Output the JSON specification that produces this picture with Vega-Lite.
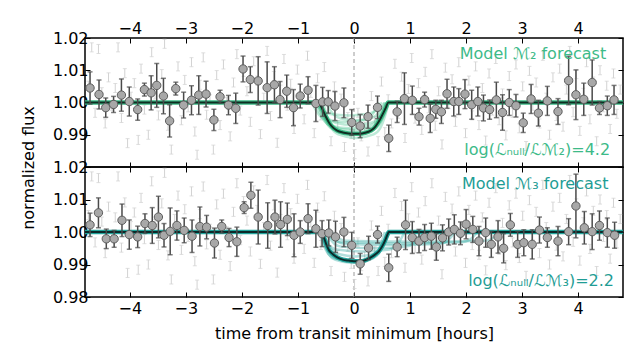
{
"$schema": "https://vega.github.io/schema/vega-lite/v6.json",
"padding": {"left": 19, "top": 19, "right": 5, "bottom": 5},
"spacing": 0,
"bounds": "flush",
"background": "white",
"config": {
  "font": "DejaVu Sans",
  "view": {"stroke": "black", "strokeWidth": 1.5},
  "axis": {"grid": false, "domain": false, "tickColor": "black", "tickSize": -5, "tickWidth": 1, "labelFont": "DejaVu Sans", "labelFontSize": 16, "labelColor": "black", "titleFont": "DejaVu Sans", "titleFontSize": 16, "titleFontWeight": "normal", "titleColor": "black", "labelPadding": 2}
},
"datasets": {
  "light": [
{"t":-4.74,"f":1.0052,"e":0.0014},{"t":-4.68,"f":1.0171,"e":0.0014},{"t":-4.62,"f":0.9968,"e":0.0014},{"t":-4.56,"f":1.0166,"e":0.0014},{"t":-4.50,"f":1.0032,"e":0.0014},{"t":-4.44,"f":0.9935,"e":0.0014},{"t":-4.38,"f":1.0078,"e":0.0014},{"t":-4.32,"f":0.9990,"e":0.0014},{"t":-4.26,"f":1.0045,"e":0.0014},{"t":-4.21,"f":1.0171,"e":0.0014},{"t":-4.15,"f":0.9952,"e":0.0014},{"t":-4.09,"f":1.0091,"e":0.0014},{"t":-4.04,"f":0.9874,"e":0.0014},{"t":-3.98,"f":1.0018,"e":0.0014},{"t":-3.92,"f":1.0060,"e":0.0014},{"t":-3.85,"f":0.9884,"e":0.0014},{"t":-3.80,"f":1.0105,"e":0.0014},{"t":-3.74,"f":0.9978,"e":0.0014},{"t":-3.67,"f":0.9900,"e":0.0014},{"t":-3.61,"f":1.0156,"e":0.0014},{"t":-3.55,"f":1.0025,"e":0.0014},{"t":-3.49,"f":0.9960,"e":0.0014},{"t":-3.43,"f":1.0088,"e":0.0014},{"t":-3.38,"f":1.0182,"e":0.0014},{"t":-3.32,"f":0.9928,"e":0.0014},{"t":-3.26,"f":0.9854,"e":0.0014},{"t":-3.20,"f":1.0040,"e":0.0014},{"t":-3.14,"f":1.0112,"e":0.0014},{"t":-3.08,"f":0.9945,"e":0.0014},{"t":-3.02,"f":1.0070,"e":0.0014},{"t":-2.96,"f":0.9985,"e":0.0014},{"t":-2.90,"f":1.0125,"e":0.0014},{"t":-2.84,"f":0.9910,"e":0.0014},{"t":-2.80,"f":0.9838,"e":0.0014},{"t":-2.75,"f":1.0055,"e":0.0014},{"t":-2.69,"f":1.0140,"e":0.0014},{"t":-2.63,"f":0.9962,"e":0.0014},{"t":-2.57,"f":1.0010,"e":0.0014},{"t":-2.51,"f":0.9854,"e":0.0014},{"t":-2.45,"f":1.0085,"e":0.0014},{"t":-2.39,"f":0.9930,"e":0.0014},{"t":-2.33,"f":1.0118,"e":0.0014},{"t":-2.27,"f":1.0002,"e":0.0014},{"t":-2.21,"f":0.9895,"e":0.0014},{"t":-2.15,"f":1.0062,"e":0.0014},{"t":-2.09,"f":1.0150,"e":0.0014},{"t":-2.03,"f":0.9975,"e":0.0014},{"t":-1.97,"f":1.0095,"e":0.0014},{"t":-1.91,"f":1.0035,"e":0.0014},{"t":-1.85,"f":0.9940,"e":0.0014},{"t":-1.79,"f":1.0128,"e":0.0014},{"t":-1.73,"f":1.0068,"e":0.0014},{"t":-1.67,"f":0.9902,"e":0.0014},{"t":-1.61,"f":1.0015,"e":0.0014},{"t":-1.55,"f":1.0160,"e":0.0014},{"t":-1.49,"f":0.9958,"e":0.0014},{"t":-1.43,"f":1.0082,"e":0.0014},{"t":-1.37,"f":0.9875,"e":0.0014},{"t":-1.31,"f":1.0040,"e":0.0014},{"t":-1.25,"f":1.0135,"e":0.0014},{"t":-1.19,"f":0.9990,"e":0.0014},{"t":-1.13,"f":1.0058,"e":0.0014},{"t":-1.07,"f":0.9918,"e":0.0014},{"t":-1.01,"f":1.0102,"e":0.0014},{"t":-0.95,"f":1.0020,"e":0.0014},{"t":-0.89,"f":0.9948,"e":0.0014},{"t":-0.83,"f":1.0145,"e":0.0014},{"t":-0.77,"f":1.0030,"e":0.0014},{"t":-0.71,"f":0.9905,"e":0.0014},{"t":-0.65,"f":1.0075,"e":0.0014},{"t":-0.59,"f":0.9960,"e":0.0014},{"t":-0.53,"f":1.0110,"e":0.0014},{"t":-0.47,"f":0.9985,"e":0.0014},{"t":-0.41,"f":0.9880,"e":0.0014},{"t":-0.35,"f":1.0050,"e":0.0014},{"t":-0.29,"f":0.9930,"e":0.0014},{"t":-0.23,"f":1.0012,"e":0.0014},{"t":-0.17,"f":0.9862,"e":0.0014},{"t":-0.11,"f":0.9955,"e":0.0014},{"t":-0.05,"f":0.9902,"e":0.0014},{"t":0.01,"f":0.9840,"e":0.0014},{"t":0.07,"f":0.9968,"e":0.0014},{"t":0.13,"f":0.9895,"e":0.0014},{"t":0.19,"f":0.9925,"e":0.0014},{"t":0.25,"f":0.9848,"e":0.0014},{"t":0.31,"f":1.0020,"e":0.0014},{"t":0.37,"f":0.9942,"e":0.0014},{"t":0.43,"f":0.9880,"e":0.0014},{"t":0.49,"f":1.0065,"e":0.0014},{"t":0.55,"f":0.9908,"e":0.0014},{"t":0.61,"f":1.0010,"e":0.0014},{"t":0.67,"f":0.9935,"e":0.0014},{"t":0.73,"f":1.0120,"e":0.0014},{"t":0.79,"f":0.9965,"e":0.0014},{"t":0.85,"f":1.0080,"e":0.0014},{"t":0.91,"f":0.9890,"e":0.0014},{"t":0.97,"f":1.0042,"e":0.0014},{"t":1.03,"f":1.0138,"e":0.0014},{"t":1.09,"f":0.9950,"e":0.0014},{"t":1.15,"f":1.0060,"e":0.0014},{"t":1.21,"f":0.9915,"e":0.0014},{"t":1.27,"f":1.0095,"e":0.0014},{"t":1.33,"f":0.9982,"e":0.0014},{"t":1.39,"f":1.0150,"e":0.0014},{"t":1.45,"f":0.9928,"e":0.0014},{"t":1.51,"f":1.0035,"e":0.0014},{"t":1.57,"f":0.9870,"e":0.0014},{"t":1.63,"f":1.0108,"e":0.0014},{"t":1.69,"f":0.9995,"e":0.0014},{"t":1.75,"f":1.0072,"e":0.0014},{"t":1.81,"f":0.9940,"e":0.0014},{"t":1.87,"f":1.0125,"e":0.0014},{"t":1.93,"f":1.0010,"e":0.0014},{"t":1.99,"f":0.9905,"e":0.0014},{"t":2.05,"f":1.0068,"e":0.0014},{"t":2.11,"f":0.9960,"e":0.0014},{"t":2.17,"f":1.0112,"e":0.0014},{"t":2.23,"f":0.9930,"e":0.0014},{"t":2.29,"f":1.0045,"e":0.0014},{"t":2.35,"f":0.9882,"e":0.0014},{"t":2.41,"f":1.0090,"e":0.0014},{"t":2.47,"f":0.9975,"e":0.0014},{"t":2.53,"f":1.0135,"e":0.0014},{"t":2.59,"f":0.9945,"e":0.0014},{"t":2.65,"f":1.0028,"e":0.0014},{"t":2.71,"f":0.9898,"e":0.0014},{"t":2.77,"f":1.0082,"e":0.0014},{"t":2.83,"f":0.9968,"e":0.0014},{"t":2.89,"f":1.0118,"e":0.0014},{"t":2.95,"f":0.9920,"e":0.0014},{"t":3.01,"f":1.0050,"e":0.0014},{"t":3.07,"f":0.9865,"e":0.0014},{"t":3.13,"f":1.0098,"e":0.0014},{"t":3.19,"f":0.9990,"e":0.0014},{"t":3.25,"f":1.0062,"e":0.0014},{"t":3.31,"f":0.9935,"e":0.0014},{"t":3.37,"f":1.0145,"e":0.0014},{"t":3.43,"f":1.0015,"e":0.0014},{"t":3.49,"f":0.9900,"e":0.0014},{"t":3.55,"f":1.0078,"e":0.0014},{"t":3.61,"f":0.9958,"e":0.0014},{"t":3.67,"f":1.0105,"e":0.0014},{"t":3.73,"f":0.9925,"e":0.0014},{"t":3.79,"f":1.0040,"e":0.0014},{"t":3.85,"f":1.0160,"e":0.0014},{"t":3.91,"f":0.9970,"e":0.0014},{"t":3.97,"f":1.0088,"e":0.0014},{"t":4.03,"f":0.9912,"e":0.0014},{"t":4.09,"f":1.0030,"e":0.0014},{"t":4.15,"f":1.0125,"e":0.0014},{"t":4.21,"f":0.9948,"e":0.0014},{"t":4.27,"f":1.0065,"e":0.0014},{"t":4.33,"f":0.9880,"e":0.0014},{"t":4.39,"f":1.0100,"e":0.0014},{"t":4.45,"f":0.9985,"e":0.0014},{"t":4.51,"f":1.0052,"e":0.0014},{"t":4.57,"f":0.9918,"e":0.0014},{"t":4.63,"f":1.0090,"e":0.0014},{"t":4.69,"f":0.9965,"e":0.0014},{"t":4.75,"f":1.0040,"e":0.0014}
  ],
  "topDark": [
{"t":-4.71,"f":1.0045,"e":0.005},{"t":-4.55,"f":1.0025,"e":0.0045},{"t":-4.43,"f":0.9984,"e":0.003},{"t":-4.29,"f":0.9994,"e":0.0025},{"t":-4.15,"f":1.0023,"e":0.005},{"t":-4.01,"f":1.0003,"e":0.0045},{"t":-3.86,"f":0.9978,"e":0.0033},{"t":-3.74,"f":1.004,"e":0.002},{"t":-3.62,"f":1.003,"e":0.0053},{"t":-3.52,"f":1.0053,"e":0.0068},{"t":-3.40,"f":1.002,"e":0.0055},{"t":-3.29,"f":0.9943,"e":0.005},{"t":-3.18,"f":1.0043,"e":0.002},{"t":-3.04,"f":0.9992,"e":0.004},{"t":-2.90,"f":1.0007,"e":0.0045},{"t":-2.77,"f":1.0023,"e":0.006},{"t":-2.64,"f":1.0026,"e":0.004},{"t":-2.50,"f":0.9946,"e":0.0033},{"t":-2.39,"f":1.0018,"e":0.002},{"t":-2.24,"f":0.9992,"e":0.003},{"t":-2.11,"f":0.9982,"e":0.0047},{"t":-1.98,"f":1.0104,"e":0.004},{"t":-1.85,"f":1.0071,"e":0.004},{"t":-1.71,"f":1.0067,"e":0.0075},{"t":-1.55,"f":1.0046,"e":0.008},{"t":-1.42,"f":1.0055,"e":0.0056},{"t":-1.32,"f":1.0009,"e":0.0056},{"t":-1.20,"f":1.0035,"e":0.005},{"t":-1.08,"f":0.9984,"e":0.0056},{"t":-0.96,"f":1.002,"e":0.0037},{"t":-0.82,"f":1.0038,"e":0.0042},{"t":-0.68,"f":0.9997,"e":0.0056},{"t":-0.56,"f":1.0002,"e":0.0045},{"t":-0.46,"f":1.0002,"e":0.0035},{"t":-0.34,"f":0.9989,"e":0.0045},{"t":-0.18,"f":0.9999,"e":0.0046},{"t":-0.04,"f":0.9938,"e":0.004},{"t":0.11,"f":0.9927,"e":0.0036},{"t":0.25,"f":0.9956,"e":0.0036},{"t":0.42,"f":0.9985,"e":0.0035},{"t":0.62,"f":0.9889,"e":0.0041},{"t":0.77,"f":0.9971,"e":0.0033},{"t":0.90,"f":1.0012,"e":0.008},{"t":1.04,"f":1.0007,"e":0.0044},{"t":1.16,"f":0.9956,"e":0.0026},{"t":1.26,"f":1.0009,"e":0.0023},{"t":1.36,"f":0.9951,"e":0.0044},{"t":1.46,"f":0.9979,"e":0.0028},{"t":1.56,"f":0.9971,"e":0.0036},{"t":1.66,"f":1.0027,"e":0.0045},{"t":1.78,"f":1.0003,"e":0.0045},{"t":1.87,"f":1.0003,"e":0.004},{"t":1.98,"f":1.0026,"e":0.0045},{"t":2.10,"f":0.9993,"e":0.0045},{"t":2.21,"f":1.0003,"e":0.0045},{"t":2.31,"f":0.9983,"e":0.004},{"t":2.42,"f":0.9978,"e":0.003},{"t":2.54,"f":1.0008,"e":0.0055},{"t":2.65,"f":0.9969,"e":0.0055},{"t":2.77,"f":1.0,"e":0.004},{"t":2.89,"f":0.999,"e":0.0035},{"t":3.02,"f":0.9937,"e":0.003},{"t":3.16,"f":1.0011,"e":0.0045},{"t":3.29,"f":0.9967,"e":0.004},{"t":3.45,"f":1.0005,"e":0.0045},{"t":3.64,"f":0.9972,"e":0.004},{"t":3.83,"f":1.0068,"e":0.0075},{"t":3.96,"f":1.0024,"e":0.0077},{"t":4.10,"f":1.001,"e":0.005},{"t":4.25,"f":1.0062,"e":0.007},{"t":4.38,"f":0.9983,"e":0.002},{"t":4.52,"f":0.999,"e":0.003},{"t":4.64,"f":1.0008,"e":0.0045}
  ],
  "botDark": [
{"t":-4.71,"f":1.0022,"e":0.0036},{"t":-4.56,"f":1.0059,"e":0.0046},{"t":-4.42,"f":0.9979,"e":0.003},{"t":-4.28,"f":0.9979,"e":0.0026},{"t":-4.14,"f":1.0036,"e":0.005},{"t":-4.01,"f":0.9992,"e":0.0045},{"t":-3.86,"f":0.9985,"e":0.0033},{"t":-3.73,"f":1.0026,"e":0.003},{"t":-3.60,"f":1.002,"e":0.0055},{"t":-3.49,"f":1.0046,"e":0.0064},{"t":-3.39,"f":0.999,"e":0.0036},{"t":-3.28,"f":1.0002,"e":0.0072},{"t":-3.16,"f":1.002,"e":0.0045},{"t":-3.03,"f":1.0005,"e":0.0038},{"t":-2.89,"f":0.9987,"e":0.005},{"t":-2.75,"f":1.0017,"e":0.006},{"t":-2.63,"f":1.0015,"e":0.0036},{"t":-2.49,"f":0.9966,"e":0.0046},{"t":-2.36,"f":1.0017,"e":0.002},{"t":-2.23,"f":0.9983,"e":0.0028},{"t":-2.09,"f":0.997,"e":0.0045},{"t":-1.96,"f":1.0075,"e":0.0018},{"t":-1.84,"f":1.0113,"e":0.004},{"t":-1.71,"f":1.0046,"e":0.0083},{"t":-1.54,"f":1.002,"e":0.007},{"t":-1.41,"f":1.0046,"e":0.0052},{"t":-1.31,"f":1.0023,"e":0.007},{"t":-1.19,"f":1.0039,"e":0.005},{"t":-1.07,"f":0.999,"e":0.0066},{"t":-0.96,"f":1.0,"e":0.0035},{"t":-0.82,"f":1.0041,"e":0.0046},{"t":-0.68,"f":1.001,"e":0.0057},{"t":-0.57,"f":0.9995,"e":0.004},{"t":-0.45,"f":0.9997,"e":0.004},{"t":-0.33,"f":0.9985,"e":0.0048},{"t":-0.18,"f":1.0,"e":0.0045},{"t":-0.04,"f":0.9959,"e":0.004},{"t":0.11,"f":0.9902,"e":0.0032},{"t":0.26,"f":0.9951,"e":0.0036},{"t":0.42,"f":0.9992,"e":0.0026},{"t":0.62,"f":0.989,"e":0.0042},{"t":0.77,"f":0.9954,"e":0.003},{"t":0.92,"f":1.0022,"e":0.0076},{"t":1.04,"f":0.9983,"e":0.0049},{"t":1.16,"f":0.9972,"e":0.0036},{"t":1.26,"f":0.9983,"e":0.004},{"t":1.38,"f":0.9987,"e":0.004},{"t":1.47,"f":0.9954,"e":0.0041},{"t":1.58,"f":0.9982,"e":0.004},{"t":1.69,"f":1.0,"e":0.004},{"t":1.79,"f":1.0008,"e":0.0045},{"t":1.90,"f":0.9996,"e":0.0035},{"t":2.00,"f":1.0024,"e":0.0045},{"t":2.12,"f":1.0008,"e":0.004},{"t":2.23,"f":0.9972,"e":0.0045},{"t":2.35,"f":0.9998,"e":0.0045},{"t":2.45,"f":0.9962,"e":0.004},{"t":2.57,"f":0.9985,"e":0.005},{"t":2.67,"f":0.995,"e":0.0045},{"t":2.79,"f":1.0022,"e":0.0035},{"t":2.92,"f":0.9962,"e":0.004},{"t":3.03,"f":0.9967,"e":0.004},{"t":3.18,"f":0.9962,"e":0.0045},{"t":3.31,"f":1.0006,"e":0.004},{"t":3.45,"f":0.9983,"e":0.003},{"t":3.64,"f":0.9972,"e":0.0045},{"t":3.83,"f":1.0001,"e":0.004},{"t":3.96,"f":1.008,"e":0.0098},{"t":4.11,"f":1.0013,"e":0.005},{"t":4.25,"f":1.0001,"e":0.0055},{"t":4.38,"f":1.002,"e":0.0045},{"t":4.52,"f":0.9998,"e":0.0045},{"t":4.65,"f":0.999,"e":0.004}
  ],
  "topFc": [
{"c":1,"t":-0.75,"f":1},{"c":1,"t":-0.68,"f":0.9976},{"c":1,"t":-0.60,"f":0.99568},{"c":1,"t":-0.48,"f":0.9946},{"c":1,"t":-0.15,"f":0.994},{"c":1,"t":0.18,"f":0.9946},{"c":1,"t":0.30,"f":0.99568},{"c":1,"t":0.38,"f":0.9976},{"c":1,"t":0.45,"f":1},
{"c":2,"t":-0.68,"f":1},{"c":2,"t":-0.61,"f":0.9968},{"c":2,"t":-0.53,"f":0.99424},{"c":2,"t":-0.41,"f":0.9928},{"c":2,"t":-0.065,"f":0.992},{"c":2,"t":0.28,"f":0.9928},{"c":2,"t":0.40,"f":0.99424},{"c":2,"t":0.48,"f":0.9968},{"c":2,"t":0.55,"f":1},
{"c":3,"t":-0.62,"f":1},{"c":3,"t":-0.55,"f":0.9962},{"c":3,"t":-0.47,"f":0.99316},{"c":3,"t":-0.35,"f":0.99145},{"c":3,"t":-0.01,"f":0.9905},{"c":3,"t":0.33,"f":0.99145},{"c":3,"t":0.45,"f":0.99316},{"c":3,"t":0.53,"f":0.9962},{"c":3,"t":0.6,"f":1},
{"c":4,"t":-0.55,"f":1},{"c":4,"t":-0.48,"f":0.9956},{"c":4,"t":-0.40,"f":0.99208},{"c":4,"t":-0.28,"f":0.9901},{"c":4,"t":0.035,"f":0.989},{"c":4,"t":0.35,"f":0.9901},{"c":4,"t":0.47,"f":0.99208},{"c":4,"t":0.55,"f":0.9956},{"c":4,"t":0.62,"f":1},
{"c":5,"t":-0.7,"f":1},{"c":5,"t":-0.63,"f":0.9984},{"c":5,"t":-0.55,"f":0.99712},{"c":5,"t":-0.43,"f":0.9964},{"c":5,"t":-0.1,"f":0.996},{"c":5,"t":0.23,"f":0.9964},{"c":5,"t":0.35,"f":0.99712},{"c":5,"t":0.43,"f":0.9984},{"c":5,"t":0.5,"f":1},
{"c":6,"t":-0.6,"f":1},{"c":6,"t":-0.53,"f":0.9972},{"c":6,"t":-0.45,"f":0.99496},{"c":6,"t":-0.33,"f":0.9937},{"c":6,"t":-0.01,"f":0.993},{"c":6,"t":0.31,"f":0.9937},{"c":6,"t":0.43,"f":0.99496},{"c":6,"t":0.51,"f":0.9972},{"c":6,"t":0.58,"f":1},
{"c":7,"t":-0.5,"f":1},{"c":7,"t":-0.43,"f":0.9978},{"c":7,"t":-0.35,"f":0.99604},{"c":7,"t":-0.23,"f":0.99505},{"c":7,"t":0.025,"f":0.9945},{"c":7,"t":0.28,"f":0.99505},{"c":7,"t":0.40,"f":0.99604},{"c":7,"t":0.48,"f":0.9978},{"c":7,"t":0.55,"f":1},
{"c":8,"t":-0.65,"f":1},{"c":8,"t":-0.58,"f":0.9966},{"c":8,"t":-0.50,"f":0.99388},{"c":8,"t":-0.38,"f":0.99235},{"c":8,"t":-0.015,"f":0.9915},{"c":8,"t":0.35,"f":0.99235},{"c":8,"t":0.47,"f":0.99388},{"c":8,"t":0.55,"f":0.9966},{"c":8,"t":0.62,"f":1}
  ],
  "botFc": [
{"c":1,"t":-0.62,"f":1},{"c":1,"t":-0.55,"f":0.9964},{"c":1,"t":-0.47,"f":0.99352},{"c":1,"t":-0.35,"f":0.9919},{"c":1,"t":-0.01,"f":0.991},{"c":1,"t":0.33,"f":0.9919},{"c":1,"t":0.45,"f":0.99352},{"c":1,"t":0.53,"f":0.9964},{"c":1,"t":0.6,"f":1},
{"c":2,"t":-0.55,"f":1},{"c":2,"t":-0.48,"f":0.997},{"c":2,"t":-0.40,"f":0.9946},{"c":2,"t":-0.28,"f":0.99325},{"c":2,"t":0.035,"f":0.9925},{"c":2,"t":0.35,"f":0.99325},{"c":2,"t":0.47,"f":0.9946},{"c":2,"t":0.55,"f":0.997},{"c":2,"t":0.62,"f":1},
{"c":3,"t":-0.5,"f":1},{"c":3,"t":-0.43,"f":0.998},{"c":3,"t":-0.35,"f":0.9964},{"c":3,"t":-0.23,"f":0.9955},{"c":3,"t":0.35,"f":0.995},{"c":3,"t":0.93,"f":0.9955},{"c":3,"t":1.05,"f":0.9964},{"c":3,"t":1.13,"f":0.998},{"c":3,"t":1.2,"f":1},
{"c":4,"t":-0.45,"f":1},{"c":4,"t":-0.38,"f":0.9984},{"c":4,"t":-0.30,"f":0.99712},{"c":4,"t":-0.18,"f":0.9964},{"c":4,"t":0.675,"f":0.996},{"c":4,"t":1.53,"f":0.9964},{"c":4,"t":1.65,"f":0.99712},{"c":4,"t":1.73,"f":0.9984},{"c":4,"t":1.8,"f":1},
{"c":5,"t":-0.4,"f":1},{"c":5,"t":-0.33,"f":0.9988},{"c":5,"t":-0.25,"f":0.99784},{"c":5,"t":-0.13,"f":0.9973},{"c":5,"t":1.1,"f":0.997},{"c":5,"t":2.33,"f":0.9973},{"c":5,"t":2.45,"f":0.99784},{"c":5,"t":2.53,"f":0.9988},{"c":5,"t":2.6,"f":1},
{"c":6,"t":-0.58,"f":1},{"c":6,"t":-0.51,"f":0.9976},{"c":6,"t":-0.43,"f":0.99568},{"c":6,"t":-0.31,"f":0.9946},{"c":6,"t":0.16,"f":0.994},{"c":6,"t":0.63,"f":0.9946},{"c":6,"t":0.75,"f":0.99568},{"c":6,"t":0.83,"f":0.9976},{"c":6,"t":0.9,"f":1},
{"c":7,"t":-0.5,"f":1},{"c":7,"t":-0.43,"f":0.9986},{"c":7,"t":-0.35,"f":0.99748},{"c":7,"t":-0.23,"f":0.99685},{"c":7,"t":0.85,"f":0.9965},{"c":7,"t":1.93,"f":0.99685},{"c":7,"t":2.05,"f":0.99748},{"c":7,"t":2.13,"f":0.9986},{"c":7,"t":2.2,"f":1},
{"c":8,"t":-0.6,"f":1},{"c":8,"t":-0.53,"f":0.9962},{"c":8,"t":-0.45,"f":0.99316},{"c":8,"t":-0.33,"f":0.99145},{"c":8,"t":-0.025,"f":0.9905},{"c":8,"t":0.28,"f":0.99145},{"c":8,"t":0.40,"f":0.99316},{"c":8,"t":0.48,"f":0.9962},{"c":8,"t":0.55,"f":1}
  ],
  "topModel": [
{"t":-4.8,"f":1.0},{"t":-0.62,"f":1.0},{"t":-0.58,"f":0.9985},{"t":-0.54,"f":0.997},{"t":-0.5,"f":0.9955},{"t":-0.45,"f":0.9939},{"t":-0.4,"f":0.9927},{"t":-0.3,"f":0.9913},{"t":-0.2,"f":0.9907},{"t":-0.1,"f":0.9904},{"t":0,"f":0.9903},{"t":0.1,"f":0.9903},{"t":0.2,"f":0.9906},{"t":0.3,"f":0.9913},{"t":0.36,"f":0.9921},{"t":0.42,"f":0.9935},{"t":0.48,"f":0.9953},{"t":0.53,"f":0.997},{"t":0.57,"f":0.9985},{"t":0.61,"f":1.0},{"t":4.8,"f":1.0}
  ],
  "botModel": [
{"t":-4.8,"f":1.0},{"t":-0.57,"f":1.0},{"t":-0.53,"f":0.998},{"t":-0.49,"f":0.996},{"t":-0.45,"f":0.9945},{"t":-0.4,"f":0.9935},{"t":-0.3,"f":0.9922},{"t":-0.2,"f":0.9915},{"t":-0.1,"f":0.9912},{"t":0,"f":0.991},{"t":0.1,"f":0.991},{"t":0.2,"f":0.9913},{"t":0.3,"f":0.9922},{"t":0.4,"f":0.9934},{"t":0.45,"f":0.9942},{"t":0.5,"f":0.9955},{"t":0.55,"f":0.9972},{"t":0.6,"f":0.9993},{"t":0.62,"f":1.0},{"t":4.8,"f":1.0}
  ],
  "topText": [
{"t":4.5,"f":1.01345,"label":"Model ℳ₂ forecast"},
{"t":4.57,"f":0.9836,"label":"log(ℒₙᵤₗₗ/ℒℳ₂)=4.2"}
  ],
  "botText": [
{"t":4.54,"f":1.01323,"label":"Model ℳ₃ forecast"},
{"t":4.64,"f":0.98338,"label":"log(ℒₙᵤₗₗ/ℒℳ₃)=2.2"}
  ],
  "zero": [{"t":0}]
},
"vconcat": [
{
  "width": 538, "height": 129,
  "layer": [
    {"data": {"name": "zero"}, "mark": {"type": "rule", "strokeDash": [4, 3], "color": "#9a9a9a", "strokeWidth": 1},
     "encoding": {"x": {"field": "t", "type": "quantitative", "scale": {"domain": [-4.8, 4.8], "nice": false, "zero": false}, "axis": null}}},
    {"data": {"name": "light"}, "mark": {"type": "errorbar", "ticks": {"size": 4}, "color": "#d2d2d2", "thickness": 1, "clip": true},
     "encoding": {"x": {"field": "t", "type": "quantitative", "scale": {"domain": [-4.8, 4.8], "nice": false, "zero": false}, "axis": null},
                  "y": {"field": "f", "type": "quantitative", "scale": {"domain": [0.98, 1.02], "nice": false, "zero": false}, "axis": null},
                  "yError": {"field": "e"}}},
    {"data": {"name": "topFc"}, "mark": {"type": "line", "interpolate": "monotone", "color": "#43c08c", "strokeWidth": 2.5, "opacity": 0.35, "clip": true},
     "encoding": {"x": {"field": "t", "type": "quantitative", "scale": {"domain": [-4.8, 4.8], "nice": false, "zero": false},
                        "axis": {"orient": "top", "values": [-4, -3, -2, -1, 0, 1, 2, 3, 4], "title": null, "format": "d", "labelPadding": 7}},
                  "y": {"field": "f", "type": "quantitative", "scale": {"domain": [0.98, 1.02], "nice": false, "zero": false},
                        "axis": {"orient": "left", "values": [0.99, 1.0, 1.01, 1.02], "format": ".2f", "title": "normalized flux", "titleX": -52, "titleY": 129.5, "titleAngle": -90, "titleAlign": "center", "titleBaseline": "alphabetic"}},
                  "detail": {"field": "c"}}},
    {"data": {"name": "topModel"}, "mark": {"type": "line", "interpolate": "monotone", "color": "#3dbb86", "strokeWidth": 4.5},
     "encoding": {"x": {"field": "t", "type": "quantitative", "scale": {"domain": [-4.8, 4.8], "nice": false, "zero": false},
                        "axis": {"orient": "bottom", "values": [-4, -3, -2, -1, 0, 1, 2, 3, 4], "labels": false, "title": null}},
                  "y": {"field": "f", "type": "quantitative", "scale": {"domain": [0.98, 1.02], "nice": false, "zero": false},
                        "axis": {"orient": "right", "values": [0.98, 0.99, 1.0, 1.01, 1.02], "labels": false, "title": null}}}},
    {"data": {"name": "topModel"}, "mark": {"type": "line", "interpolate": "monotone", "color": "#0f2e22", "strokeWidth": 2},
     "encoding": {"x": {"field": "t", "type": "quantitative", "scale": {"domain": [-4.8, 4.8], "nice": false, "zero": false}, "axis": null},
                  "y": {"field": "f", "type": "quantitative", "scale": {"domain": [0.98, 1.02], "nice": false, "zero": false}, "axis": null}}},
    {"data": {"name": "topDark"}, "mark": {"type": "errorbar", "ticks": {"size": 5}, "color": "#4a4a4a", "thickness": 1.5, "clip": true},
     "encoding": {"x": {"field": "t", "type": "quantitative", "scale": {"domain": [-4.8, 4.8], "nice": false, "zero": false}, "axis": null},
                  "y": {"field": "f", "type": "quantitative", "scale": {"domain": [0.98, 1.02], "nice": false, "zero": false}, "axis": null},
                  "yError": {"field": "e"}}},
    {"data": {"name": "topDark"}, "mark": {"type": "point", "filled": true, "size": 70, "fill": "#a8a8a8", "stroke": "#5c5c5c", "strokeWidth": 1, "opacity": 1},
     "encoding": {"x": {"field": "t", "type": "quantitative", "scale": {"domain": [-4.8, 4.8], "nice": false, "zero": false}, "axis": null},
                  "y": {"field": "f", "type": "quantitative", "scale": {"domain": [0.98, 1.02], "nice": false, "zero": false}, "axis": null}}},
    {"data": {"name": "topText"}, "mark": {"type": "text", "align": "right", "baseline": "alphabetic", "font": "DejaVu Sans", "fontSize": 16, "color": "#3dba88"},
     "encoding": {"x": {"field": "t", "type": "quantitative", "scale": {"domain": [-4.8, 4.8], "nice": false, "zero": false}, "axis": null},
                  "y": {"field": "f", "type": "quantitative", "scale": {"domain": [0.98, 1.02], "nice": false, "zero": false}, "axis": null},
                  "text": {"field": "label"}}}
  ],
  "resolve": {"axis": {"x": "independent", "y": "independent"}}
},
{
  "width": 538, "height": 130,
  "layer": [
    {"data": {"name": "zero"}, "mark": {"type": "rule", "strokeDash": [4, 3], "color": "#9a9a9a", "strokeWidth": 1},
     "encoding": {"x": {"field": "t", "type": "quantitative", "scale": {"domain": [-4.8, 4.8], "nice": false, "zero": false}, "axis": null}}},
    {"data": {"name": "light"}, "mark": {"type": "errorbar", "ticks": {"size": 4}, "color": "#d2d2d2", "thickness": 1, "clip": true},
     "encoding": {"x": {"field": "t", "type": "quantitative", "scale": {"domain": [-4.8, 4.8], "nice": false, "zero": false}, "axis": null},
                  "y": {"field": "f", "type": "quantitative", "scale": {"domain": [0.98, 1.02], "nice": false, "zero": false}, "axis": null},
                  "yError": {"field": "e"}}},
    {"data": {"name": "botFc"}, "mark": {"type": "line", "interpolate": "monotone", "color": "#22a39a", "strokeWidth": 2.5, "opacity": 0.35, "clip": true},
     "encoding": {"x": {"field": "t", "type": "quantitative", "scale": {"domain": [-4.8, 4.8], "nice": false, "zero": false},
                        "axis": {"orient": "bottom", "values": [-4, -3, -2, -1, 0, 1, 2, 3, 4], "format": "d", "labelPadding": 8, "title": "time from transit minimum [hours]", "titleY": 41, "titleBaseline": "alphabetic"}},
                  "y": {"field": "f", "type": "quantitative", "scale": {"domain": [0.98, 1.02], "nice": false, "zero": false},
                        "axis": {"orient": "left", "values": [0.98, 0.99, 1.0, 1.01, 1.02], "format": ".2f", "title": null}},
                  "detail": {"field": "c"}}},
    {"data": {"name": "botModel"}, "mark": {"type": "line", "interpolate": "monotone", "color": "#22a39a", "strokeWidth": 4.5},
     "encoding": {"x": {"field": "t", "type": "quantitative", "scale": {"domain": [-4.8, 4.8], "nice": false, "zero": false},
                        "axis": {"orient": "top", "values": [-4, -3, -2, -1, 0, 1, 2, 3, 4], "labels": false, "title": null}},
                  "y": {"field": "f", "type": "quantitative", "scale": {"domain": [0.98, 1.02], "nice": false, "zero": false},
                        "axis": {"orient": "right", "values": [0.98, 0.99, 1.0, 1.01, 1.02], "labels": false, "title": null}}}},
    {"data": {"name": "botModel"}, "mark": {"type": "line", "interpolate": "monotone", "color": "#0b2a2a", "strokeWidth": 2},
     "encoding": {"x": {"field": "t", "type": "quantitative", "scale": {"domain": [-4.8, 4.8], "nice": false, "zero": false}, "axis": null},
                  "y": {"field": "f", "type": "quantitative", "scale": {"domain": [0.98, 1.02], "nice": false, "zero": false}, "axis": null}}},
    {"data": {"name": "botDark"}, "mark": {"type": "errorbar", "ticks": {"size": 5}, "color": "#4a4a4a", "thickness": 1.5, "clip": true},
     "encoding": {"x": {"field": "t", "type": "quantitative", "scale": {"domain": [-4.8, 4.8], "nice": false, "zero": false}, "axis": null},
                  "y": {"field": "f", "type": "quantitative", "scale": {"domain": [0.98, 1.02], "nice": false, "zero": false}, "axis": null},
                  "yError": {"field": "e"}}},
    {"data": {"name": "botDark"}, "mark": {"type": "point", "filled": true, "size": 70, "fill": "#a8a8a8", "stroke": "#5c5c5c", "strokeWidth": 1, "opacity": 1},
     "encoding": {"x": {"field": "t", "type": "quantitative", "scale": {"domain": [-4.8, 4.8], "nice": false, "zero": false}, "axis": null},
                  "y": {"field": "f", "type": "quantitative", "scale": {"domain": [0.98, 1.02], "nice": false, "zero": false}, "axis": null}}},
    {"data": {"name": "botText"}, "mark": {"type": "text", "align": "right", "baseline": "alphabetic", "font": "DejaVu Sans", "fontSize": 16, "color": "#1f9d95"},
     "encoding": {"x": {"field": "t", "type": "quantitative", "scale": {"domain": [-4.8, 4.8], "nice": false, "zero": false}, "axis": null},
                  "y": {"field": "f", "type": "quantitative", "scale": {"domain": [0.98, 1.02], "nice": false, "zero": false}, "axis": null},
                  "text": {"field": "label"}}}
  ],
  "resolve": {"axis": {"x": "independent", "y": "independent"}}
}
]
}
